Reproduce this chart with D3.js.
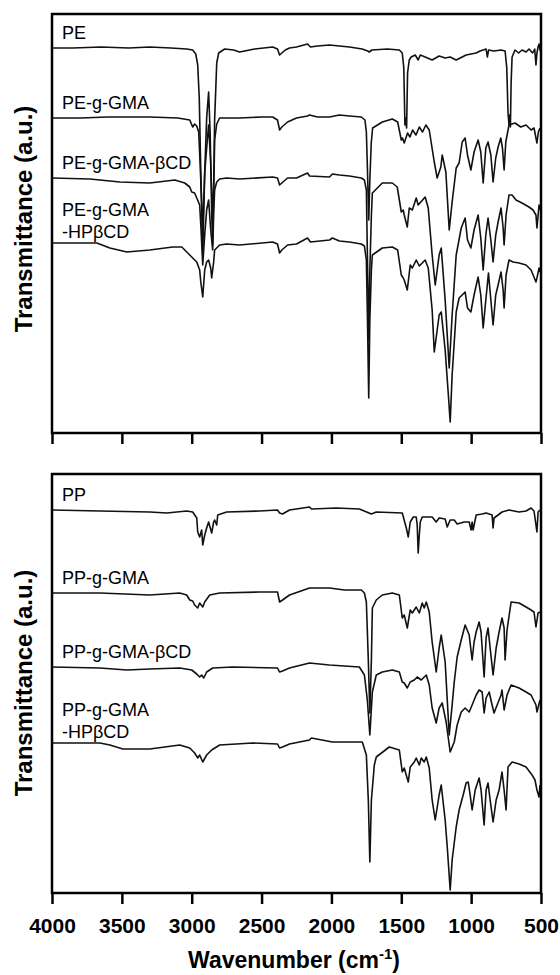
<!DOCTYPE html>
<html>
<head>
<meta charset="utf-8">
<script src="https://cdn.jsdelivr.net/npm/d3@7"></script>
<style>
  body { margin: 0; background: #ffffff; }
  text { font-family: "Liberation Sans", Arial, sans-serif; }
</style>
</head>
<body>
<div id="my_dataviz_ftir"></div>
<script>
// wavenumber ticks (cm-1)
const xTicks = [4000, 3500, 3000, 2500, 2000, 1500, 1000, 500];

// series names, one array of lines per spectrum
const peNames = [["PE"], ["PE-g-GMA"], ["PE-g-GMA-βCD"], ["PE-g-GMA", "-HPβCD"]];
const ppNames = [["PP"], ["PP-g-GMA"], ["PP-g-GMA-βCD"], ["PP-g-GMA", "-HPβCD"]];

// spectra: [wavenumber, transmittance (a.u., offset)]
const pe = [[4000,38.5],[3850,38.5],[3650,38.6],[3450,38.5],[3300,38.6],[3150,38.5],[3036,38.4],[2993,38.3],[2971,37.9],[2957,36.8],[2946,33.5],[2935,26.0],[2921,17.8],[2907,26.0],[2893,31.5],[2879,34.1],[2868,30.0],[2857,22.0],[2850,18.8],[2843,24.0],[2836,31.3],[2821,37.0],[2807,38.0],[2764,38.4],[2700,38.3],[2657,38.1],[2550,38.4],[2420,38.6],[2386,38.4],[2371,37.8],[2355,38.0],[2330,38.3],[2300,38.5],[2250,38.6],[2171,38.9],[2150,38.6],[2100,38.7],[2014,38.8],[1943,38.7],[1871,38.6],[1780,38.4],[1740,38.2],[1729,38.1],[1710,38.3],[1600,38.4],[1514,38.3],[1493,38.0],[1482,36.5],[1474,30.8],[1467,31.5],[1462,30.5],[1455,36.0],[1443,37.3],[1429,37.6],[1400,37.8],[1379,37.3],[1364,37.8],[1329,37.6],[1279,37.3],[1229,37.7],[1186,37.5],[1150,37.6],[1107,37.3],[1064,37.6],[1036,37.8],[964,38.0],[936,38.2],[893,38.4],[884,37.6],[875,38.3],[836,38.2],[786,38.3],[757,38.2],[745,36.5],[736,32.0],[729,30.8],[724,31.8],[719,30.6],[714,35.0],[707,37.6],[686,38.3],[660,38.0],[636,38.3],[607,38.1],[586,38.4],[560,38.0],[545,38.4],[536,36.8],[529,38.0],[521,38.6],[514,38.9],[505,38.2]];

const peGma = [[4000,31.5],[3800,31.5],[3600,31.6],[3300,31.6],[3100,31.5],[3014,31.3],[2993,30.6],[2979,30.9],[2964,30.7],[2950,30.1],[2940,27.0],[2921,20.3],[2907,26.0],[2893,28.5],[2879,30.8],[2864,27.0],[2850,21.3],[2840,26.0],[2836,29.3],[2821,30.9],[2800,31.5],[2657,31.5],[2500,31.6],[2421,31.6],[2386,31.3],[2371,30.3],[2355,30.6],[2314,31.1],[2250,31.5],[2171,31.7],[2157,31.8],[2100,31.6],[2014,31.6],[1943,31.8],[1871,31.7],[1786,31.6],[1760,31.3],[1750,30.1],[1742,26.3],[1733,21.3],[1725,25.3],[1715,29.0],[1705,30.5],[1636,31.1],[1564,31.4],[1526,31.1],[1500,29.3],[1491,29.5],[1479,29.0],[1455,30.0],[1438,29.6],[1419,30.3],[1395,29.8],[1371,30.6],[1348,30.1],[1324,30.8],[1300,30.3],[1264,27.1],[1243,25.5],[1217,26.6],[1207,27.8],[1181,26.1],[1157,20.3],[1136,23.1],[1107,26.5],[1086,27.0],[1064,29.1],[1043,29.5],[1026,27.8],[1002,26.3],[979,28.1],[950,29.3],[931,28.1],[914,25.0],[895,28.5],[879,29.1],[859,27.8],[843,25.1],[824,27.5],[807,28.6],[788,29.5],[776,28.5],[764,26.3],[752,29.1],[729,30.8],[686,31.0],[645,30.6],[607,30.8],[571,30.3],[550,30.5],[529,29.0],[519,30.1],[507,30.5]];

const peGmaBcd = [[4000,25.5],[3729,25.4],[3514,25.1],[3300,25.0],[3121,25.3],[3050,25.0],[3014,24.6],[3000,24.1],[2979,24.0],[2964,23.5],[2943,22.8],[2935,20.8],[2921,16.8],[2907,19.8],[2893,22.3],[2879,23.3],[2864,20.3],[2850,18.3],[2843,21.8],[2836,24.3],[2821,25.1],[2800,25.4],[2750,25.5],[2657,25.4],[2421,25.6],[2386,25.5],[2371,24.8],[2355,25.0],[2314,25.5],[2250,25.5],[2171,26.0],[2157,25.7],[2014,25.6],[1993,25.9],[1943,25.8],[1871,25.7],[1786,25.5],[1764,25.3],[1750,24.3],[1742,17.3],[1733,9.3],[1725,16.3],[1714,21.8],[1707,24.0],[1636,25.0],[1564,25.0],[1529,24.6],[1500,22.1],[1486,22.3],[1479,21.8],[1457,20.6],[1443,22.5],[1421,22.3],[1393,23.5],[1379,22.8],[1329,23.6],[1307,22.5],[1279,17.8],[1257,14.8],[1229,17.8],[1214,18.5],[1186,13.3],[1157,6.5],[1136,11.8],[1107,17.8],[1071,20.5],[1043,21.5],[1026,19.3],[1002,18.5],[979,20.3],[950,21.8],[931,19.5],[914,16.3],[895,19.8],[879,21.5],[859,19.3],[843,17.1],[824,19.8],[807,21.1],[786,22.5],[771,20.5],[764,18.8],[750,21.8],[729,23.8],[707,23.8],[679,23.3],[636,23.0],[586,22.6],[557,22.3],[536,21.8],[529,20.5],[514,22.8],[507,22.3]];

const peGmaHpbcd = [[4000,19.0],[3679,19.0],[3586,18.5],[3464,18.1],[3300,18.3],[3136,18.6],[3071,18.6],[3014,17.8],[2993,17.5],[2964,17.1],[2943,16.3],[2935,15.1],[2921,13.6],[2907,16.3],[2893,17.1],[2879,17.3],[2864,16.5],[2857,15.5],[2843,17.1],[2836,18.3],[2800,18.8],[2750,18.9],[2657,18.8],[2421,19.1],[2386,18.9],[2371,18.0],[2355,18.3],[2314,18.8],[2250,18.9],[2171,19.5],[2150,19.1],[2014,19.3],[1993,19.5],[1943,19.2],[1871,19.1],[1786,18.9],[1764,18.7],[1750,17.3],[1742,11.3],[1733,3.5],[1725,11.3],[1714,16.3],[1707,17.8],[1636,18.5],[1564,18.6],[1526,18.3],[1500,15.8],[1486,15.5],[1479,15.3],[1457,14.3],[1436,16.8],[1421,16.5],[1393,17.3],[1371,16.7],[1329,17.3],[1307,16.5],[1279,12.3],[1264,8.1],[1243,10.3],[1229,11.8],[1214,12.1],[1186,8.3],[1164,4.0],[1150,1.1],[1136,5.8],[1107,12.1],[1086,13.5],[1043,14.1],[1026,12.5],[1002,12.1],[979,13.8],[950,15.6],[931,13.8],[914,10.5],[895,13.3],[876,16.0],[859,13.3],[843,10.8],[824,13.8],[807,14.8],[786,16.1],[771,14.3],[764,12.5],[750,15.8],[729,17.3],[700,17.1],[657,17.0],[607,16.8],[571,16.3],[536,15.1],[529,15.5],[514,16.5],[507,16.1]];

const pp = [[4000,38.3],[3657,38.2],[3300,38.1],[3179,38.0],[3036,38.2],[2993,38.1],[2964,37.5],[2957,36.1],[2943,35.6],[2929,36.3],[2921,34.8],[2907,35.8],[2893,36.5],[2879,37.1],[2857,36.0],[2843,37.1],[2836,37.3],[2821,36.8],[2814,37.8],[2750,38.1],[2514,38.2],[2386,38.3],[2371,38.0],[2350,37.9],[2300,38.3],[2157,38.6],[2143,38.4],[1964,38.5],[1800,38.4],[1714,37.9],[1679,38.1],[1493,38.0],[1464,36.5],[1450,35.6],[1436,37.1],[1414,37.6],[1393,37.6],[1386,36.8],[1379,34.0],[1371,35.8],[1364,37.1],[1350,37.6],[1279,37.6],[1250,37.1],[1229,37.5],[1186,37.4],[1171,36.6],[1150,37.3],[1121,37.3],[1100,36.9],[1050,37.1],[1014,37.1],[1000,36.3],[993,37.1],[986,36.3],[964,37.8],[921,37.9],[893,38.0],[850,37.8],[843,36.5],[836,37.5],[779,38.1],[729,38.3],[657,38.1],[607,38.2],[571,38.5],[550,38.2],[529,36.1],[521,38.1],[507,38.3]];

const ppGma = [[4000,30.0],[3657,30.0],[3300,29.8],[3086,30.0],[3036,29.8],[3014,29.3],[2993,29.2],[2979,28.8],[2957,28.5],[2943,29.0],[2921,28.6],[2907,29.1],[2871,29.8],[2800,30.0],[2514,30.1],[2386,30.1],[2371,29.1],[2350,29.3],[2300,29.8],[2157,30.5],[2014,30.5],[1907,30.3],[1786,30.3],[1764,30.0],[1750,29.1],[1736,23.3],[1725,18.0],[1714,23.3],[1707,28.5],[1679,29.3],[1636,29.8],[1564,30.0],[1514,29.8],[1493,27.5],[1479,27.8],[1457,26.5],[1436,28.3],[1421,28.0],[1393,28.6],[1371,28.0],[1350,29.0],[1336,28.5],[1321,29.1],[1300,28.1],[1279,25.1],[1250,22.1],[1229,24.5],[1214,25.8],[1186,23.1],[1157,15.8],[1136,18.8],[1121,21.1],[1100,23.6],[1071,25.3],[1043,26.8],[1014,25.8],[993,23.3],[979,25.1],[964,26.1],[943,27.1],[929,26.1],[907,21.6],[893,25.5],[879,26.5],[864,24.5],[843,21.8],[821,24.5],[800,26.1],[779,27.5],[764,26.5],[757,23.3],[743,26.3],[714,29.1],[657,29.0],[607,28.6],[571,28.3],[550,28.1],[536,26.6],[521,28.0],[507,28.1]];

const ppGmaBcd = [[4000,22.6],[3657,22.5],[3464,22.3],[3300,22.4],[3086,22.5],[3000,22.3],[2964,21.9],[2943,21.6],[2929,21.8],[2914,21.5],[2893,22.1],[2850,22.5],[2707,22.6],[2386,22.5],[2371,22.1],[2350,22.2],[2300,22.5],[2157,23.0],[2014,22.8],[1800,22.6],[1764,21.8],[1743,19.3],[1725,15.8],[1707,20.1],[1679,21.8],[1636,22.1],[1564,22.3],[1514,22.1],[1493,21.1],[1479,21.0],[1457,20.5],[1436,21.1],[1407,21.3],[1386,21.6],[1357,21.3],[1321,21.8],[1300,20.8],[1279,18.5],[1250,17.0],[1229,18.5],[1207,19.0],[1179,17.1],[1150,14.1],[1121,15.1],[1100,16.8],[1071,18.1],[1043,18.5],[1014,18.1],[993,18.8],[964,19.8],[943,20.3],[921,20.1],[907,18.0],[893,19.5],[871,20.1],[850,18.8],[836,18.0],[814,18.8],[786,19.8],[779,20.3],[764,18.3],[743,19.8],[714,20.8],[657,20.5],[607,20.1],[571,19.8],[536,18.8],[529,18.1],[507,19.3]];

const ppGmaHpbcd = [[4000,15.0],[3657,15.0],[3586,14.8],[3493,14.4],[3300,14.4],[3086,14.8],[3014,14.5],[2979,14.0],[2957,13.5],[2943,13.8],[2921,13.1],[2893,13.8],[2857,14.3],[2800,14.8],[2564,15.0],[2386,14.9],[2371,14.5],[2350,14.6],[2300,14.9],[2157,15.3],[2143,15.5],[1993,15.1],[1779,15.1],[1750,13.8],[1736,9.3],[1725,3.1],[1714,9.3],[1693,12.8],[1679,13.6],[1586,14.6],[1514,14.3],[1493,12.1],[1479,12.5],[1450,11.1],[1436,12.6],[1407,13.1],[1393,13.5],[1371,12.8],[1357,13.5],[1336,13.1],[1321,13.6],[1300,12.5],[1279,9.3],[1257,7.3],[1229,9.8],[1214,10.8],[1186,7.3],[1171,4.6],[1150,0.3],[1136,3.3],[1107,6.6],[1086,8.3],[1057,9.8],[1036,11.0],[1021,11.1],[1007,9.8],[993,8.3],[971,10.3],[943,11.5],[929,10.3],[907,6.8],[893,10.3],[879,11.0],[864,9.3],[843,7.1],[821,9.3],[800,10.3],[779,12.1],[764,10.3],[750,8.3],[736,12.6],[707,13.1],[657,12.9],[607,12.6],[564,11.8],[543,11.3],[529,10.3],[514,9.6],[507,10.8]];


function generate_ftir() {
  const W = 560, H = 975;
  const left = 52, right = 541;
  const panel_h = 419;

  const svg = d3.select("#my_dataviz_ftir")
    .append("svg")
      .attr("width", W)
      .attr("height", H);

  const x = d3.scaleLinear()
    .domain([4000, 500])
    .range([left, right]);

  // one panel = frame + spectra + names
  function drawPanel(top, spectra, names, showLabels, titleY) {
    const y = d3.scaleLinear()
      .domain([0, 41.9])
      .range([top + panel_h, top]);

    const line = d3.line()
      .x(d => x(d[0]))
      .y(d => y(d[1]));

    svg.append("g")
      .selectAll("path")
      .data(spectra)
      .join("path")
        .attr("d", d => line(d))
        .attr("fill", "none")
        .attr("stroke", "#111")
        .attr("stroke-width", 1.6)
        .attr("stroke-linejoin", "round");

    // series names, placed just above the start of each trace
    spectra.forEach(function(s, i) {
      const lines = names[i];
      const base = y(s[0][1]) - (lines.length > 1 ? 5 : 9);
      lines.forEach(function(t, j) {
        svg.append("text")
          .attr("x", left + 10)
          .attr("y", base - (lines.length - 1 - j) * 22)
          .style("font-size", "18px")
          .style("fill", "#000")
          .text(t);
      });
    });

    const xAxis = d3.axisBottom(x)
      .tickValues(xTicks)
      .tickSize(11)
      .tickSizeOuter(0)
      .tickPadding(14)
      .tickFormat(showLabels ? d3.format("d") : "");

    const ax = svg.append("g")
      .attr("transform", `translate(0, ${top + panel_h})`)
      .call(xAxis);
    ax.select(".domain").remove();
    ax.selectAll(".tick line")
      .attr("stroke", "#000")
      .attr("stroke-width", 2.5);
    ax.selectAll(".tick text")
      .style("font-size", "21px")
      .style("font-weight", "bold")
      .style("font-family", "'Liberation Sans', Arial, sans-serif")
      .attr("fill", "#000");

    // frame
    svg.append("rect")
      .attr("x", left)
      .attr("y", top)
      .attr("width", right - left)
      .attr("height", panel_h)
      .attr("fill", "none")
      .attr("stroke", "#000")
      .attr("stroke-width", 2.5);

    // text label for the y axis
    svg.append("text")
      .attr("transform", `translate(32, ${titleY}) rotate(-90)`)
      .style("text-anchor", "middle")
      .style("font-size", "24px")
      .style("font-weight", "bold")
      .text("Transmittance (a.u.)");
  }

  drawPanel(14, [pe, peGma, peGmaBcd, peGmaHpbcd], peNames, false, 219);
  drawPanel(474, [pp, ppGma, ppGmaBcd, ppGmaHpbcd], ppNames, true, 683);

  // text label for the x axis
  const xt = svg.append("text")
    .attr("x", 294)
    .attr("y", 968)
    .style("text-anchor", "middle")
    .style("font-size", "23px")
    .style("font-weight", "bold");
  xt.append("tspan").text("Wavenumber (cm");
  xt.append("tspan").attr("dy", -9).style("font-size", "15px").text("-1");
  xt.append("tspan").attr("dy", 9).text(")");
}

generate_ftir();
</script>
</body>
</html>
